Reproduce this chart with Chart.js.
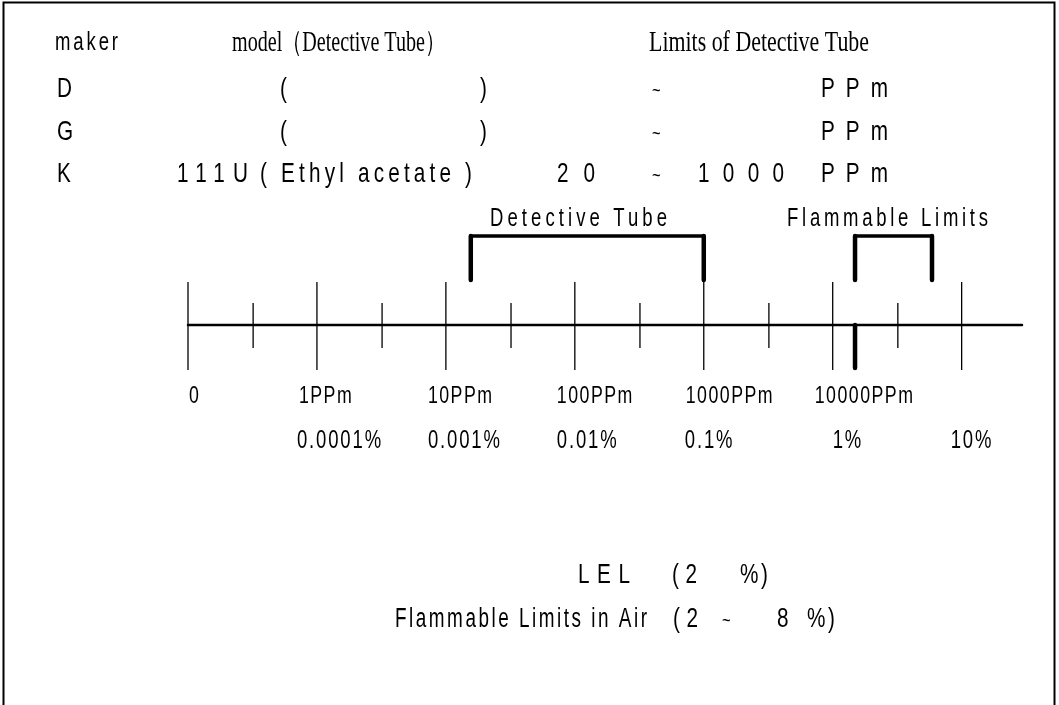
<!DOCTYPE html>
<html>
<head>
<meta charset="utf-8">
<script src="https://cdn.jsdelivr.net/npm/chart.js@4.4.1/dist/chart.umd.min.js"></script>
<style>
  body { margin: 0; background: #fff; }
  canvas { display: block; }
</style>
</head>
<body>
<canvas id="grafica" width="1059" height="705"></canvas>
<script>
// table
const makers = ['D', 'G', 'K'];
const models = ['', '', '111U'];
const gases = ['', '', 'Ethyl acetate'];
const tubeLow = [null, null, 20];
const tubeHigh = [null, null, 1000];

// scale (ppm)
const axisRange = [0.1, 293800];
const majorTicks = [0.1, 1, 10, 100, 1000, 10000, 100000];
const minorTicks = [0.32, 3.2, 32, 320, 3200, 32000];
const ppmLabels = ['0', '1PPm', '10PPm', '100PPm', '1000PPm', '10000PPm', ''];
const pctLabels = ['', '0.0001%', '0.001%', '0.01%', '0.1%', '1%', '10%'];

// ranges as drawn on the scale (ppm)
const detectiveTube = [15.6, 1000];
const flammableLimits = [14900, 58900];
const lel = 14900;

const AXIS_Y = 325;
const SANS = "'Liberation Sans', Arial, sans-serif";
const SERIF = "'Liberation Serif', 'Times New Roman', serif";
const SX = 0.74;

function fitText(ctx, str, x, y, width, size, family, sx) {
    ctx.save();
    ctx.font = size + 'px ' + family;
    ctx.textAlign = 'left';
    ctx.textBaseline = 'alphabetic';
    ctx.fillStyle = '#000';
    const hasLs = 'letterSpacing' in ctx;
    if (hasLs) ctx.letterSpacing = '0px';
    const n = [...str].length;
    const w0 = ctx.measureText(str).width;
    if (!sx) {
        sx = width ? width / w0 : 1;
    } else if (width && n > 1) {
        if (hasLs) {
            ctx.letterSpacing = ((width / sx - w0) / (n - 1)) + 'px';
        } else {
            sx = width / w0;
        }
    }
    ctx.translate(x, y);
    ctx.scale(sx, 1);
    ctx.fillText(str, 0, 0);
    ctx.restore();
}

function label(ctx, str, x, y, size, ls) {
    ctx.save();
    ctx.font = size + 'px ' + SANS;
    ctx.textAlign = 'left';
    ctx.fillStyle = '#000';
    if ('letterSpacing' in ctx) ctx.letterSpacing = ls + 'px';
    ctx.translate(x, y);
    ctx.scale(SX, 1);
    ctx.fillText(str, 0, 0);
    ctx.restore();
}

const textos = {
    id: 'textos',
    afterDraw(chart) {
        const ctx = chart.ctx;
        const xs = chart.scales.x;

        // frame
        ctx.save();
        ctx.strokeStyle = '#000';
        ctx.lineWidth = 2;
        ctx.strokeRect(3.5, 2.5, 1051, 800);
        ctx.restore();

        // header
        fitText(ctx, 'maker', 55, 50, 63, 25, SANS, SX);
        fitText(ctx, 'model（Detective Tube）', 232, 51, 213, 29, SERIF);
        fitText(ctx, 'Limits of Detective Tube', 649, 51, 220, 29, SERIF);

        const rowY = [97, 140, 182];
        for (let i = 0; i < makers.length; i++) {
            const y = rowY[i];
            fitText(ctx, makers[i], 57, y, 0, 28, SANS, SX);
            if (models[i]) {
                fitText(ctx, models[i], 177, y, 71, 28, SANS, SX);
                fitText(ctx, '( ' + gases[i] + ' )', 260, y, 212, 28, SANS, SX);
            } else {
                fitText(ctx, '(', 280, y, 0, 28, SANS, SX);
                fitText(ctx, ')', 480, y, 0, 28, SANS, SX);
            }
            if (tubeLow[i] !== null) fitText(ctx, String(tubeLow[i]), 557, y, 38, 28, SANS, SX);
            fitText(ctx, '~', 652, y, 0, 20, SANS, SX);
            if (tubeHigh[i] !== null) fitText(ctx, String(tubeHigh[i]), 698, y, 86, 28, SANS, SX);
            fitText(ctx, 'PPm', 821, y, 67, 28, SANS, SX);
        }

        // bracket titles
        fitText(ctx, 'Detective Tube', 490, 226, 177, 25, SANS, SX);
        fitText(ctx, 'Flammable Limits', 787, 226, 201, 25, SANS, SX);

        // tick labels
        for (let i = 0; i < majorTicks.length; i++) {
            const px = xs.getPixelForValue(majorTicks[i]);
            if (ppmLabels[i]) label(ctx, ppmLabels[i], i === 0 ? px + 1 : px - 18, 403, 24, 2);
        }
        const pctShift = [0, -20, -18, -18, -19, 0, -11];
        for (let i = 0; i < majorTicks.length; i++) {
            const px = xs.getPixelForValue(majorTicks[i]);
            if (pctLabels[i]) label(ctx, pctLabels[i], px + pctShift[i], 448, 25, 2.5);
        }

        // notes
        fitText(ctx, 'LEL', 578, 583, 52, 28, SANS, SX);
        fitText(ctx, '(2', 672, 583, 25, 28, SANS, SX);
        fitText(ctx, '%)', 740, 583, 28, 28, SANS, SX);
        fitText(ctx, 'Flammable Limits in Air', 395, 627, 252, 27, SANS, 0.7);
        fitText(ctx, '(2', 673, 627, 25, 28, SANS, SX);
        fitText(ctx, '~', 722, 627, 0, 20, SANS, SX);
        fitText(ctx, '8', 777, 627, 0, 28, SANS, SX);
        fitText(ctx, '%)', 807, 627, 28, 28, SANS, SX);
    }
};

function tramo(x1, y1, x2, y2, w) {
    return {
        data: [{x: x1, y: y1}, {x: x2, y: y2}],
        showLine: true,
        borderColor: '#000',
        borderWidth: w,
        borderCapStyle: 'round',
        pointRadius: 0,
        clip: false
    };
}

const datasets = [
    tramo(axisRange[0], AXIS_Y, axisRange[1], AXIS_Y, 2.5),
    {
        data: majorTicks.map(v => ({x: v, y: AXIS_Y + 1})),
        pointStyle: 'line',
        rotation: 90,
        pointRadius: 44,
        borderColor: '#000',
        borderWidth: 1.3,
        clip: false
    },
    {
        data: minorTicks.map(v => ({x: v, y: AXIS_Y + 0.5})),
        pointStyle: 'line',
        rotation: 90,
        pointRadius: 22.5,
        borderColor: '#000',
        borderWidth: 1.3,
        clip: false
    },
    tramo(detectiveTube[0], 236, detectiveTube[1], 236, 3.5),
    tramo(detectiveTube[0], 236, detectiveTube[0], 280, 4.5),
    tramo(detectiveTube[1], 236, detectiveTube[1], 280, 4.5),
    tramo(flammableLimits[0], 236, flammableLimits[1], 236, 3.5),
    tramo(flammableLimits[0], 236, flammableLimits[0], 280, 4.5),
    tramo(flammableLimits[1], 236, flammableLimits[1], 280, 4.5),
    tramo(lel, AXIS_Y, lel, 368, 4.5)
];

const config = {
    type: 'scatter',
    data: { datasets: datasets },
    options: {
        responsive: false,
        animation: false,
        devicePixelRatio: 1,
        layout: { autoPadding: false, padding: { left: 188, right: 37, top: 0, bottom: 0 } },
        scales: {
            x: { type: 'logarithmic', min: axisRange[0], max: axisRange[1], bounds: 'data', display: false },
            y: { type: 'linear', min: 0, max: 705, reverse: true, bounds: 'data', display: false }
        },
        plugins: { legend: { display: false }, tooltip: { enabled: false } },
        events: []
    },
    plugins: [textos]
};

const ctx = document.getElementById('grafica');
var migrafica = new Chart(ctx, config);
</script>
</body>
</html>
